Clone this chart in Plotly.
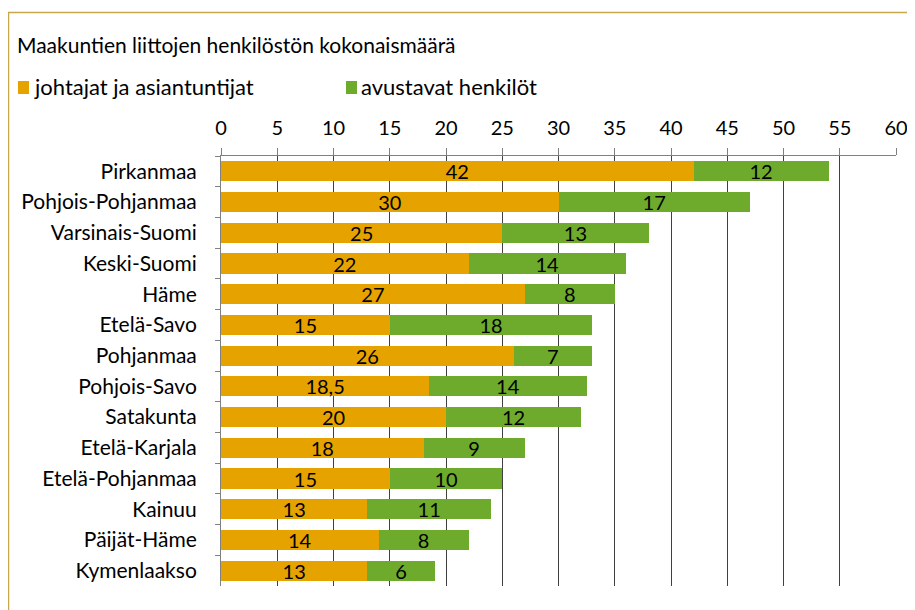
import plotly.graph_objects as go

regions = ["Pirkanmaa", "Pohjois-Pohjanmaa", "Varsinais-Suomi", "Keski-Suomi", "Häme",
           "Etelä-Savo", "Pohjanmaa", "Pohjois-Savo", "Satakunta", "Etelä-Karjala",
           "Etelä-Pohjanmaa", "Kainuu", "Päijät-Häme", "Kymenlaakso"]
johtajat = [42, 30, 25, 22, 27, 15, 26, 18.5, 20, 18, 15, 13, 14, 13]
avustavat = [12, 17, 13, 14, 8, 18, 7, 14, 12, 9, 10, 11, 8, 6]
x_ticks = [0, 5, 10, 15, 20, 25, 30, 35, 40, 45, 50, 55, 60]

ORANGE = "#E6A300"
GREEN = "#6EAB2C"
FONT = "Lato"

# page body has an 8px default margin; work in page pixels and shift
OFF = 8
FW, FH = 915 - OFF, 610 - OFF


def fmt(v):
    return f"{v:g}".replace(".", ",")


fig = go.Figure()
fig.add_trace(go.Bar(y=regions, x=johtajat, orientation="h", name="johtajat ja asiantuntijat",
                     marker=dict(color=ORANGE, line=dict(width=0)),
                     text=[fmt(v) for v in johtajat], textposition="inside",
                     insidetextanchor="middle", textangle=0, constraintext="none",
                     textfont=dict(color="black", size=20, family=FONT), width=0.66))
fig.add_trace(go.Bar(y=regions, x=avustavat, orientation="h", name="avustavat henkilöt",
                     marker=dict(color=GREEN, line=dict(width=0)),
                     text=[fmt(v) for v in avustavat], textposition="inside",
                     insidetextanchor="middle", textangle=0, constraintext="none",
                     textfont=dict(color="black", size=20, family=FONT), width=0.66))

# page-pixel plot area
PL, PR, PT, PB = 221, 896, 156, 586
L, T = PL - OFF, PT - OFF
R, B = FW - (PR - OFF), FH - (PB - OFF)
W, H = PR - PL, PB - PT


def px(x):
    return (x - PL) / W


def py(y):
    return 1 - (y - PT) / H


fig.update_layout(
    barmode="stack",
    width=FW, height=FH,
    margin=dict(l=L, r=R, t=T, b=B, autoexpand=False),
    paper_bgcolor="white", plot_bgcolor="white",
    showlegend=False,
    font=dict(family=FONT, color="black", size=20),
    xaxis=dict(side="top", range=[0, 60], tickvals=x_ticks, ticktext=[str(t) for t in x_ticks],
               showgrid=True, gridcolor="#404040", gridwidth=1, zeroline=False,
               showline=True, linecolor="#808080", linewidth=1,
               ticks="outside", ticklen=7, tickcolor="#808080",
               ticklabelstandoff=5, tickfont=dict(size=20, family=FONT)),
    yaxis=dict(autorange="reversed", showgrid=False, showline=True, linecolor="#808080",
               linewidth=1, ticks="outside", ticklen=5, tickcolor="#808080",
               tickson="boundaries", ticklabelstandoff=19,
               tickfont=dict(size=21, family=FONT)),
    shapes=[dict(type="rect", xref="paper", yref="paper",
                 x0=px(8.5), x1=px(940), y0=py(640), y1=py(12.5),
                 line=dict(color="#C8A64A", width=1.5), fillcolor="rgba(0,0,0,0)", layer="below"),
            dict(type="rect", xref="paper", yref="paper",
                 x0=px(18), x1=px(29), y0=py(94), y1=py(81),
                 line=dict(width=0), fillcolor=ORANGE),
            dict(type="rect", xref="paper", yref="paper",
                 x0=px(346), x1=px(357), y0=py(94), y1=py(81),
                 line=dict(width=0), fillcolor=GREEN)],
    annotations=[
        dict(text="Maakuntien liittojen henkilöstön kokonaismäärä", xref="paper", yref="paper",
             x=px(15), y=py(45), xanchor="left", yanchor="middle", showarrow=False,
             font=dict(size=21, family=FONT)),
        dict(text="johtajat ja asiantuntijat", xref="paper", yref="paper",
             x=px(32), y=py(87), xanchor="left", yanchor="middle", showarrow=False,
             font=dict(size=22, family=FONT)),
        dict(text="avustavat henkilöt", xref="paper", yref="paper",
             x=px(359), y=py(87), xanchor="left", yanchor="middle", showarrow=False,
             font=dict(size=22, family=FONT)),
    ],
)

fig.write_html("out.html")
